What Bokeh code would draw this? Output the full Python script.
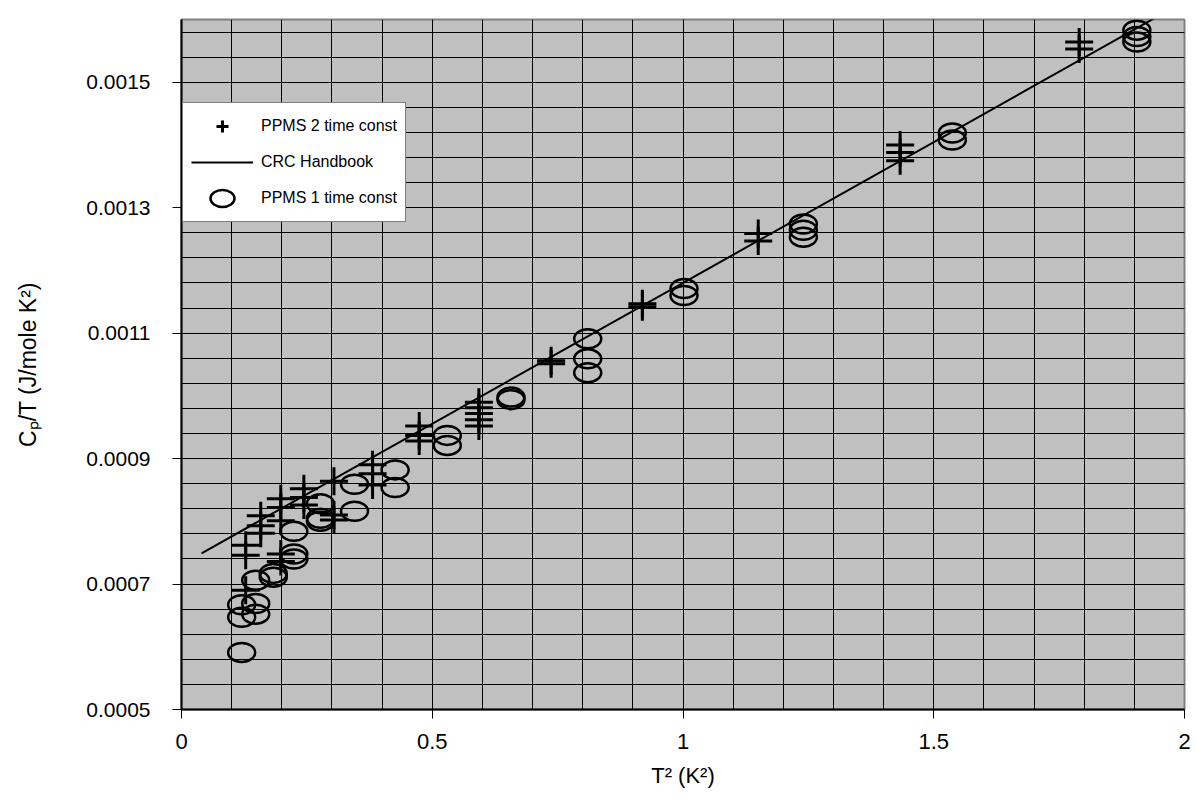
from bokeh.plotting import figure
from bokeh.models import (Range1d, FixedTicker, PrintfTickFormatter, CustomJSTickFormatter,
                          Legend, LegendItem)
from bokeh.embed import file_html
from bokeh.resources import INLINE

# PPMS 2 time constant data (plus markers)
plus_x = [0.128, 0.128, 0.128,
          0.158, 0.158, 0.158,
          0.198, 0.198, 0.198, 0.198, 0.198,
          0.244, 0.244, 0.244,
          0.304, 0.304, 0.304,
          0.381, 0.381, 0.381,
          0.474, 0.474, 0.474,
          0.593, 0.593, 0.593, 0.593, 0.593,
          0.737, 0.737,
          0.919, 0.919,
          1.150, 1.150,
          1.433, 1.433, 1.433,
          1.790, 1.790]
plus_y = [0.000762, 0.000746, 0.000690,
          0.000809, 0.000793, 0.000781,
          0.000836, 0.000822, 0.000801, 0.000748, 0.000736,
          0.000852, 0.000838, 0.000826,
          0.000864, 0.000810, 0.000802,
          0.000890, 0.000876, 0.000858,
          0.000952, 0.000937, 0.000928,
          0.000990, 0.000981, 0.000972, 0.000962, 0.000952,
          0.001056, 0.001051,
          0.001147, 0.001142,
          0.001259, 0.001247,
          0.001400, 0.001388, 0.001375,
          0.001564, 0.001553]

# PPMS 1 time constant data (open circles)
circ_x = [0.120, 0.120, 0.120,
          0.148, 0.148, 0.148,
          0.183, 0.183,
          0.224, 0.224, 0.224,
          0.277, 0.277, 0.277,
          0.345, 0.345,
          0.426, 0.426,
          0.530, 0.530,
          0.657, 0.657,
          0.810, 0.810, 0.810,
          1.002, 1.002,
          1.240, 1.240, 1.240,
          1.537, 1.537,
          1.905, 1.905, 1.905]
circ_y = [0.000591, 0.000647, 0.000667,
          0.000652, 0.000669, 0.000706,
          0.000711, 0.000717,
          0.000740, 0.000748, 0.000784,
          0.000828, 0.000805, 0.000800,
          0.000859, 0.000816,
          0.000882, 0.000854,
          0.000937, 0.000921,
          0.000998, 0.000994,
          0.001091, 0.001059, 0.001037,
          0.001171, 0.001160,
          0.001274, 0.001264, 0.001253,
          0.001419, 0.001408,
          0.001583, 0.001573, 0.001564]

# CRC Handbook reference line
line_x = [0.04, 1.98]
line_y = [0.000749, 0.001620]

x_major = [0, 0.5, 1, 1.5, 2]
x_minor = [round(0.1 * i, 2) for i in range(21)]
y_major = [0.0005, 0.0007, 0.0009, 0.0011, 0.0013, 0.0015]
y_minor = [round(0.0005 + 0.00004 * i, 6) for i in range(28)]

FONT = "Liberation Sans"

p = figure(width=1196, height=800, output_backend="svg", toolbar_location=None,
           x_range=Range1d(0, 2), y_range=Range1d(0.0005, 0.0016),
           min_border_left=181, min_border_right=12, min_border_top=19, min_border_bottom=91)

p.background_fill_color = "#C0C0C0"
p.border_fill_color = "white"
p.outline_line_color = "#808080"
p.outline_line_width = 2

# axes
p.xaxis.ticker = FixedTicker(ticks=x_major, minor_ticks=x_minor)
p.yaxis.ticker = FixedTicker(ticks=y_major, minor_ticks=y_minor)
p.xaxis.formatter = CustomJSTickFormatter(code="return String(tick)")
p.yaxis.formatter = PrintfTickFormatter(format="%.4f")

for ax in (p.xaxis, p.yaxis):
    ax.axis_line_color = "black"
    ax.axis_line_width = 2
    ax.major_tick_line_color = "black"
    ax.major_tick_line_width = 1
    ax.major_tick_in = 0
    ax.major_tick_out = 9
    ax.minor_tick_line_color = None
    ax.major_label_text_font = FONT
    ax.major_label_text_color = "black"
    ax.axis_label_text_font = FONT
    ax.axis_label_text_font_style = "normal"
    ax.axis_label_text_color = "black"

p.xaxis.major_label_text_font_size = "22px"
p.yaxis.major_label_text_font_size = "21px"
p.xaxis.major_label_standoff = 15
p.yaxis.major_label_standoff = 22
p.xaxis.axis_label = "T\u00b2 (K\u00b2)"
p.yaxis.axis_label = "C\u209a/T (J/mole K\u00b2)"
p.xaxis.axis_label_text_font_size = "22px"
p.yaxis.axis_label_text_font_size = "23px"
p.xaxis.axis_label_standoff = 11
p.yaxis.axis_label_standoff = 42

# grid
for g in (p.xgrid, p.ygrid):
    g.grid_line_color = "black"
    g.grid_line_width = 1
    g.minor_grid_line_color = "black"
    g.minor_grid_line_width = 1

# data
r_plus = p.scatter(plus_x, plus_y, marker="cross", size=28, line_width=3, line_color="black")
r_line = p.line(line_x, line_y, line_width=2, line_color="black")
r_circ = p.ellipse(circ_x, circ_y, width=27, height=19, width_units="screen", height_units="screen",
                   fill_color=None, line_color="black", line_width=2.5)

legend = Legend(items=[LegendItem(label="PPMS 2 time const", renderers=[r_plus]),
                       LegendItem(label="CRC Handbook", renderers=[r_line]),
                       LegendItem(label="PPMS 1 time const", renderers=[r_circ])],
                location=(1, 487))
legend.glyph_width = 62
legend.glyph_height = 30
legend.spacing = 6
legend.padding = 8
legend.label_standoff = 8
legend.label_text_font = FONT
legend.label_text_font_size = "16px"
legend.label_text_color = "black"
legend.border_line_color = "black"
legend.border_line_width = 1
legend.background_fill_color = "white"
legend.background_fill_alpha = 1.0
legend.margin = 0
p.add_layout(legend)

open("out.html", "w").write(file_html(p, INLINE))
